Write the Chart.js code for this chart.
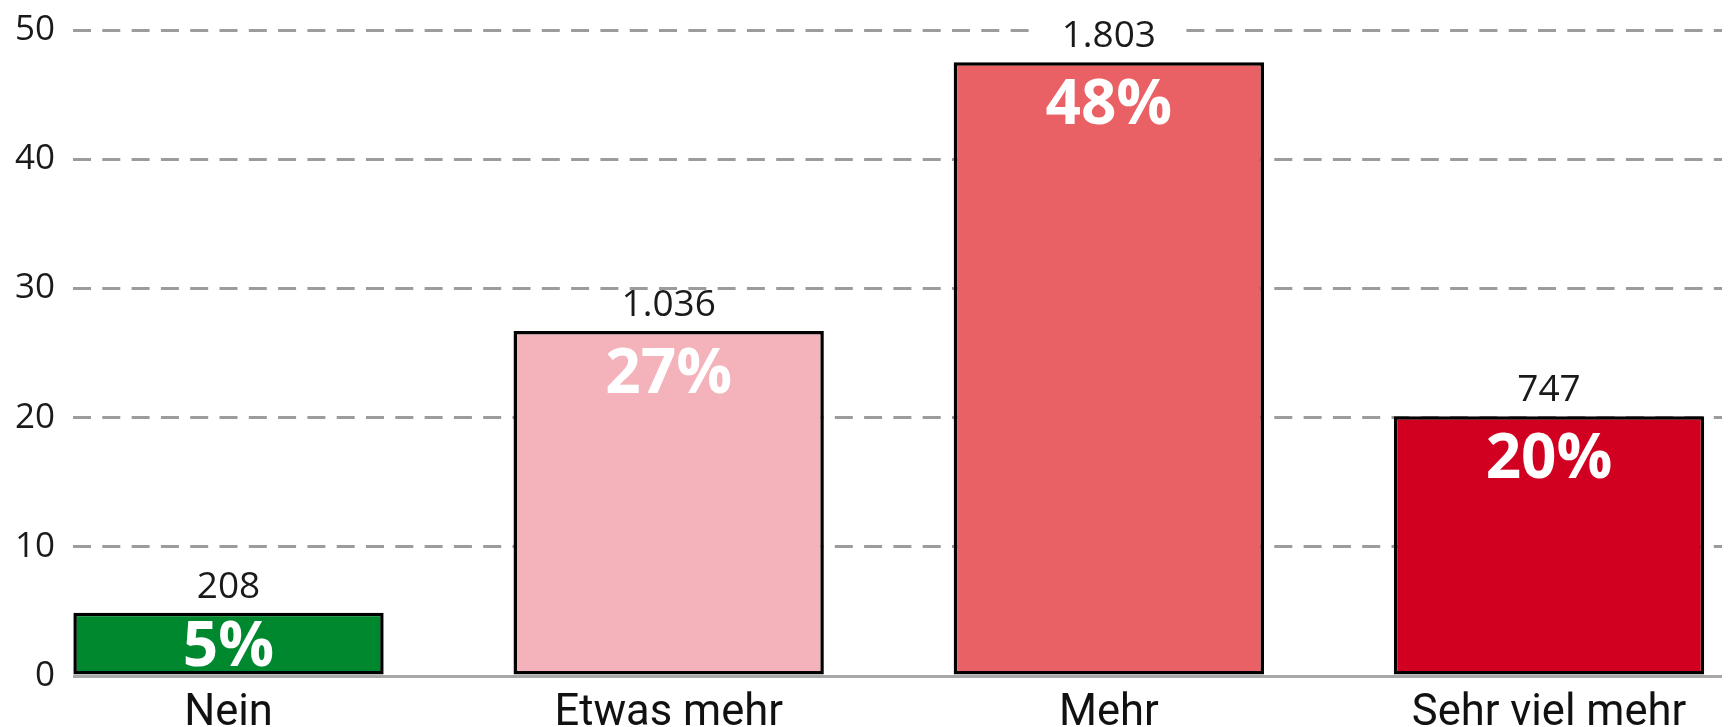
<!DOCTYPE html>
<html>
<head>
<meta charset="utf-8">
<script src="https://cdn.jsdelivr.net/npm/chart.js@4/dist/chart.umd.min.js"></script>
<style>
html,body{margin:0;padding:0;background:#fff;}
#wrap{width:1730px;height:727px;position:relative;}
</style>
</head>
<body>
<div id="wrap"><canvas id="c"></canvas></div>
<script>
const categories = ["Nein", "Etwas mehr", "Mehr", "Sehr viel mehr"];
const barValues = [4.9, 26.7, 47.5, 20.1];
const percentLabels = ["5%", "27%", "48%", "20%"];
const countLabels = ["208", "1.036", "1.803", "747"];
const barColors = ["#00882f", "#f4b3bb", "#e96164", "#d20020"];
const yTicks = [0, 10, 20, 30, 40, 50];

const barLabels = {
  id: 'barLabels',
  afterDatasetsDraw(chart) {
    const ctx = chart.ctx;
    const meta = chart.getDatasetMeta(0);
    ctx.save();
    meta.data.forEach((el, i) => {
      const top = el.y, base = el.base, x = el.x;
      ctx.textAlign = 'center';
      ctx.textBaseline = 'alphabetic';
      ctx.font = '37px "Open Sans"';
      const by = top - 15;
      const w = ctx.measureText(countLabels[i]).width;
      ctx.fillStyle = '#ffffff';
      ctx.fillRect(x - w / 2 - 28, by - 24, w + 56, 32);
      ctx.fillStyle = '#1a1a1a';
      ctx.fillText(countLabels[i], x, by);
      ctx.fillStyle = '#ffffff';
      ctx.font = 'bold 62px "Open Sans"';
      const baseline = Math.min(top + 62, (top + base) / 2 + 22);
      ctx.fillText(percentLabels[i], x, baseline);
    });
    ctx.restore();
  }
};

new Chart(document.getElementById('c'), {
  type: 'bar',
  data: {
    datasets: [{
      data: barValues.map((v, i) => ({x: i, y: v})),
      backgroundColor: barColors,
      borderColor: '#000000',
      borderWidth: 3.5,
      borderSkipped: false,
      barPercentage: 0.705,
      categoryPercentage: 1.0
    }]
  },
  options: {
    responsive: true,
    maintainAspectRatio: false,
    animation: false,
    layout: { padding: { top: 30, right: 8, left: 0, bottom: 0 } },
    plugins: { legend: { display: false }, tooltip: { enabled: false } },
    scales: {
      x: {
        type: 'linear',
        offset: false,
        min: -0.3533,
        max: 3.393,
        afterBuildTicks: s => { s.ticks = categories.map((c, i) => ({value: i})); },
        afterFit: s => { s.height = 51; },
        grid: { display: false, drawTicks: false },
        border: { display: false },
        ticks: {
          autoSkip: false,
          maxRotation: 0,
          padding: 12,
          color: '#111111',
          font: { family: 'Roboto', size: 43.5 },
          callback: v => categories[v]
        }
      },
      y: {
        min: 0,
        max: 50,
        afterBuildTicks: s => { s.ticks = yTicks.map(v => ({value: v})); },
        afterFit: s => { s.width = 73; },
        grid: {
          drawTicks: false,
          tickLength: 0,
          lineWidth: 3,
          color: ctx => ctx.tick && ctx.tick.value === 0 ? '#a8a8a8' : '#9c9c9c'
        },
        border: {
          display: false,
          dash: ctx => ctx.tick && ctx.tick.value === 0 ? [] : [18, 11.3],
          dashOffset: 0
        },
        ticks: {
          padding: 18,
          color: '#1a1a1a',
          font: { family: 'Open Sans', size: 35, lineHeight: 0.6 }
        }
      }
    }
  },
  plugins: [barLabels]
});
</script>
</body>
</html>
